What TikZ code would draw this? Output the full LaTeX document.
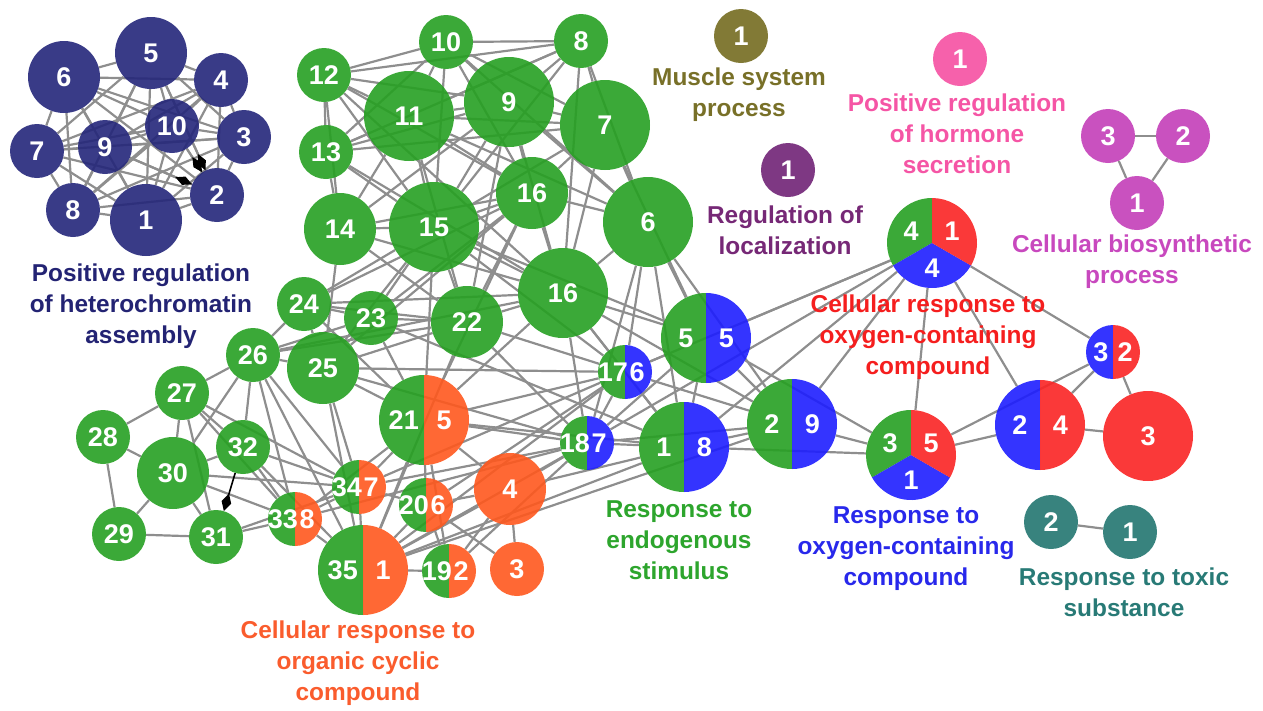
\documentclass[tikz,border=0pt]{standalone}
\usepackage{fontspec}
\setsansfont{Liberation Sans}
\usetikzlibrary{arrows.meta,backgrounds}

\definecolor{het}{RGB}{36,38,122}
\definecolor{grn}{RGB}{38,160,34}
\definecolor{org}{RGB}{255,88,30}
\definecolor{blu}{RGB}{30,30,255}
\definecolor{rd}{RGB}{250,36,36}
\definecolor{olv}{RGB}{116,108,32}
\definecolor{pur}{RGB}{112,34,118}
\definecolor{pnk}{RGB}{245,80,162}
\definecolor{mag}{RGB}{195,62,184}
\definecolor{tel}{RGB}{34,118,112}
\definecolor{edge}{RGB}{142,142,142}

\definecolor{hetlab}{RGB}{35,35,115}
\definecolor{muslab}{RGB}{120,112,40}
\definecolor{horlab}{RGB}{245,85,165}
\definecolor{loclab}{RGB}{118,40,118}
\definecolor{biolab}{RGB}{200,72,190}
\definecolor{crlab}{RGB}{245,30,30}
\definecolor{roxlab}{RGB}{40,40,235}
\definecolor{endlab}{RGB}{45,165,45}
\definecolor{toxlab}{RGB}{40,122,118}
\definecolor{orglab}{RGB}{250,92,45}

\newcommand{\numfont}{\sffamily\bfseries\fontsize{27}{27}\selectfont}
\newcommand{\labfont}{\sffamily\bfseries\fontsize{24.4}{31}\selectfont}

% two coloured halves: name, position, radius, left, right, left text, right text
\newcommand{\halfpie}[7]{%
  \node[term,minimum size=2*#3pt] (#1) at (#2) {};
  \fill[#4,fill opacity=0.9] (#1.center) -- ++(90:#3pt) arc[start angle=90,end angle=270,radius=#3pt] -- cycle;
  \fill[#5,fill opacity=0.9] (#1.center) -- ++(-90:#3pt) arc[start angle=-90,end angle=90,radius=#3pt] -- cycle;
  \node[num] (#1l) at ([xshift=-0.45*#3pt]#1.center) {#6};
  \node[num] (#1r) at ([xshift=0.45*#3pt]#1.center) {#7};}

% three sectors, green / red / blue
\newcommand{\tripie}[6]{%
  \node[term,minimum size=2*#3pt] (#1) at (#2) {};
  \fill[grn,fill opacity=0.9] (#1.center) -- ++(90:#3pt) arc[start angle=90,end angle=210,radius=#3pt] -- cycle;
  \fill[blu,fill opacity=0.9] (#1.center) -- ++(210:#3pt) arc[start angle=210,end angle=330,radius=#3pt] -- cycle;
  \fill[rd,fill opacity=0.9] (#1.center) -- ++(330:#3pt) arc[start angle=330,end angle=450,radius=#3pt] -- cycle;
  \node[num] (#1g) at ([xshift=-21pt,yshift=12pt]#1.center) {#4};
  \node[num] (#1r) at ([xshift=20pt,yshift=12pt]#1.center) {#5};
  \node[num] (#1b) at ([yshift=-25pt]#1.center) {#6};}

\begin{document}
\begin{tikzpicture}[x=1pt,y=-1pt]
    \tikzstyle{term}=[circle,inner sep=0pt,draw=none,fill opacity=0.9,text opacity=1,text=white,font=\numfont]
    \tikzstyle{num}=[inner sep=0pt,text=white,font=\numfont]
    \tikzstyle{title}=[align=center,inner sep=0pt,font=\labfont]
    \tikzstyle{link}=[draw=edge,line width=2.2pt]

    \tikzstyle{dot1}=[minimum size=54pt]
    \tikzstyle{dot2}=[minimum size=72pt]
    \tikzstyle{dot3}=[minimum size=90pt]

    \tikzstyle{H}=[term,fill=het]    % heterochromatin
    \tikzstyle{G}=[term,fill=grn]    % endogenous stimulus
    \tikzstyle{O}=[term,fill=org]    % organic cyclic compound
    \tikzstyle{R}=[term,fill=rd]     % cellular response, oxygen
    \tikzstyle{T}=[term,fill=tel]    % toxic substance
    \tikzstyle{B}=[term,fill=mag]    % biosynthetic

    \useasboundingbox (0,0) rectangle (1263,710);

    % heterochromatin assembly
    \node[H,dot2] (b1) at (146,220) {1};
    \node[H,dot1] (b2) at (217,195) {2};
    \node[H,dot1] (b3) at (244,137) {3};
    \node[H,dot1] (b4) at (221,80) {4};
    \node[H,dot2] (b5) at (151,53) {5};
    \node[H,dot2] (b6) at (64,77) {6};
    \node[H,dot1] (b7) at (37,151) {7};
    \node[H,dot1] (b8) at (73,210) {8};
    \node[H,dot1] (b9) at (105,147) {9};
    \node[H,dot1] (b10) at (172,126) {10};

    % endogenous stimulus
    \node[G,dot1] (g10) at (446,42) {10};
    \node[G,dot1] (g8) at (581,41) {8};
    \node[G,dot1] (g12) at (324,75) {12};
    \node[G,dot3] (g11) at (409,116) {11};
    \node[G,dot3] (g9) at (509,102) {9};
    \node[G,dot3] (g7) at (605,125) {7};
    \node[G,dot1] (g13) at (326,152) {13};
    \node[G,dot2] (g16u) at (532,193) {16};
    \node[G,dot2] (g14) at (340,229) {14};
    \node[G,dot3] (g15) at (434,227) {15};
    \node[G,dot3] (g6) at (648,222) {6};
    \node[G,dot3] (g16l) at (563,293) {16};
    \node[G,dot1] (g24) at (304,304) {24};
    \node[G,dot1] (g23) at (371,318) {23};
    \node[G,dot2] (g22) at (467,322) {22};
    \node[G,dot1] (g26) at (253,355) {26};
    \node[G,dot2] (g25) at (323,368) {25};
    \node[G,dot1] (g27) at (182,393) {27};
    \node[G,dot1] (g28) at (103,437) {28};
    \node[G,dot2] (g30) at (173,473) {30};
    \node[G,dot1] (g32) at (243,447) {32};
    \node[G,dot1] (g29) at (119,534) {29};
    \node[G,dot1] (g31) at (216,537) {31};

    % organic cyclic compound
    \halfpie{h21}{424,420}{45}{grn}{org}{21}{5}
    \halfpie{h34}{359,487}{27}{grn}{org}{34}{7}
    \halfpie{h33}{295,519}{27}{grn}{org}{33}{8}
    \halfpie{h20}{426,505}{27}{grn}{org}{20}{6}
    \halfpie{h35}{363,570}{45}{grn}{org}{35}{1}
    \halfpie{h19}{449,571}{27}{grn}{org}{19}{2}
    \node[O,dot2] (o4) at (510,489) {4};
    \node[O,dot1] (o3) at (517,569) {3};

    % oxygen-containing compound
    \halfpie{e17}{625,372}{27}{grn}{blu}{17}{6}
    \halfpie{e18}{587,443}{27}{grn}{blu}{18}{7}
    \halfpie{e5}{706,338}{45}{grn}{blu}{5}{5}
    \halfpie{e1}{684,447}{45}{grn}{blu}{1}{8}
    \halfpie{e2}{792,424}{45}{grn}{blu}{2}{9}
    \tripie{c1}{932,243}{45}{4}{1}{4}
    \tripie{c2}{911,455}{45}{3}{5}{1}
    \halfpie{k3}{1113,352}{27}{blu}{rd}{3}{2}
    \halfpie{k2}{1040,425}{45}{blu}{rd}{2}{4}
    \node[R,dot3] (r3) at (1148,436) {3};

    % small groups
    \node[T,dot1] (t2) at (1051,522) {2};
    \node[T,dot1] (t1) at (1130,532) {1};
    \node[B,dot1] (m3) at (1108,136) {3};
    \node[B,dot1] (m2) at (1183,136) {2};
    \node[B,dot1] (m1) at (1137,203) {1};
    \node[term,dot1,fill=pnk] (p1) at (960,59) {1};
    \node[term,dot1,fill=olv] (l1) at (741,36) {1};
    \node[term,dot1,fill=pur] (u1) at (788,170) {1};

    % group titles
    \node[title,text=hetlab] (hetname) at (141,306) {Positive regulation\\of heterochromatin\\assembly};
    \node[title,text=muslab] (musname) at (739,95) {Muscle system\\process};
    \node[title,text=horlab] (horname) at (957,134) {Positive regulation\\of hormone\\secretion};
    \node[title,text=loclab] (locname) at (785,230) {Regulation of\\localization};
    \node[title,text=biolab] (bioname) at (1132,262) {Cellular biosynthetic\\process};
    \node[title,text=crlab] (crname) at (928,337) {Cellular response to\\oxygen-containing\\compound};
    \node[title,text=roxlab] (roxname) at (906,549) {Response to\\oxygen-containing\\compound};
    \node[title,text=endlab] (endname) at (679,540) {Response to\\endogenous\\stimulus};
    \node[title,text=toxlab] (toxname) at (1124,592) {Response to toxic\\substance};
    \node[title,text=orglab] (orgname) at (358,663) {Cellular response to\\organic cyclic\\compound};

    \begin{pgfonlayer}{background}
    \foreach \i in {1,...,10}{
        \foreach \j in {1,...,10}{
            \ifnum\i<\j \draw[link] (b\i) -- (b\j); \fi
        }
    }
    \foreach \a/\b in {b2/b10,b2/b5,b2/b9}
        \draw[link,{Diamond[black,length=18pt,width=9pt]}-] (\a) -- (\b);

    \foreach \a/\b in {g10/g8,g10/g12,g10/g11,g10/g9,g10/g7,g10/g16u,g10/g15,g10/g13,g10/g6,
        g8/g12,g8/g11,g8/g9,g8/g7,g8/g13,g8/g6,g8/g15,g8/g16l,
        g12/g13,g12/g11,g12/g9,g12/g14,g12/g16u,g12/g15,g12/g16l,
        g13/g11,g13/g9,g13/g7,g13/g14,g13/g15,g13/g16l,
        g11/g9,g11/g7,g11/g14,g11/g15,g11/g16u,g11/g22,g11/g6,
        g9/g7,g9/g15,g9/g16u,g9/g6,g9/g16l,g9/g22,g9/g14,
        g7/g16u,g7/g6,g7/g15,g7/g16l,g7/e5,
        g16u/g15,g16u/g6,g16u/g16l,g16u/g22,g16u/g23,g16u/g24,g16u/g25,g16u/h21,g16u/g14,
        g14/g15,g14/g16l,g14/g22,g14/g25,
        g15/g16l,g15/g22,g15/g23,g15/g24,g15/g25,g15/h21,g15/e5,g15/e17,
        g6/g16l,g6/e5,g6/e1,g6/e17,g6/e18,g6/e2,
        g16l/g22,g16l/e5,g16l/e17,g16l/e1,g16l/g24,g16l/g26,g16l/h21,g16l/e2,g16l/e18,
        g22/g24,g22/g23,g22/g25,g22/e17,g22/e18,g22/g26,g22/h35,
        g24/g23,g24/g26,g24/g25,g24/h21,
        g23/g26,g23/g25,g23/h21,g23/e1,
        g26/g25,g26/g27,g26/g30,g26/h34,g26/h35,g26/h33,g26/g32,
        g25/h21,g25/h34,g25/e18,g25/h35,g25/e17,
        g27/g28,g27/g30,g27/g32,g27/g31,g27/h34,g27/h33,
        g28/g30,g28/g29,g30/g29,g30/g31,g30/g32,g30/h34,g30/h33,g29/g31,
        g32/h34,g32/h33,g32/h35,g31/h33,g31/h34,
        h33/h34,h33/h21,h33/h35,h33/e18,
        h34/h21,h34/h35,h34/h20,h34/e18,h34/e17,
        h21/h35,h21/h20,h21/e18,h21/e1,h21/e17,h21/o4,h21/h19,
        h20/o4,h20/h35,h20/h19,h20/o3,h20/e17,
        h35/h19,h35/o4,h35/e18,h35/e1,h35/e17,h35/e2,
        h19/o4,h19/e18,o4/o3,o4/e18,o4/e1,
        e17/e5,e17/e18,e17/e1,e17/e2,e17/c1,
        e18/e1,e18/e5,e18/e2,e5/e1,e5/e2,e5/c1,e5/c2,
        e1/e2,e1/c2,e1/c1,e2/c2,e2/c1,
        c1/c2,c1/k2,c1/k3,c1/e18,c2/k2,c2/k3,
        k2/k3,k2/r3,k3/r3,t2/t1,m3/m2,m3/m1,m2/m1}
        \draw[link] (\a) -- (\b);
    \draw[link,black,line width=1.6pt,{Diamond[black,length=18pt,width=10pt]}-] (g31) -- (g32);
    \end{pgfonlayer}
\end{tikzpicture}
\end{document}
